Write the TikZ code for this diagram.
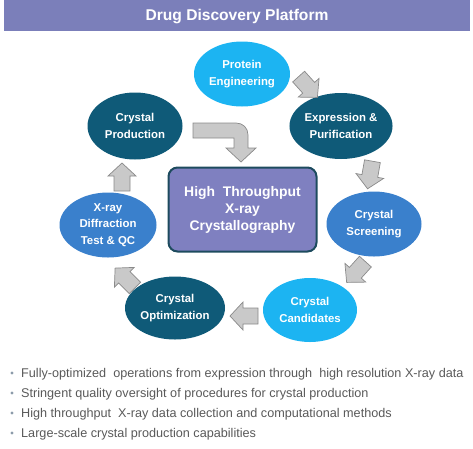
\documentclass[tikz,border=0pt]{standalone}
\usepackage{fontspec}
\setmainfont{Liberation Sans}
\usetikzlibrary{shapes.geometric}
\definecolor{lblue}{HTML}{1CB4F2}
\definecolor{mblue}{HTML}{3A80CC}
\definecolor{dteal}{HTML}{0F5A78}
\definecolor{barcol}{HTML}{7B7FBA}
\definecolor{boxcol}{HTML}{7F80C0}
\definecolor{boxline}{HTML}{1D4B5E}
\definecolor{arrfill}{HTML}{C9C9C9}
\definecolor{arrline}{HTML}{8A8A8A}
\definecolor{txtgray}{HTML}{595959}
\definecolor{dotcol}{HTML}{8C9BAA}
\begin{document}
\begin{tikzpicture}[x=1pt,y=-1pt,
  stage/.style={ellipse, minimum width=96pt, minimum height=65pt, inner sep=0pt,
    text=white, align=center, font=\fontsize{11.4}{16.7}\selectfont\bfseries},
  arrstyle/.style={fill=arrfill, draw=arrline, line width=0.7pt, line join=miter},
  blockarr/.pic={\path[arrstyle] (-14,-8) -- (1,-8) -- (1,-14) -- (14,0) -- (1,14) -- (1,8) -- (-14,8) -- cycle;},
  bullettext/.style={anchor=base west, inner sep=0pt, text=txtgray, font=\fontsize{12.65}{15}\selectfont},
  bulletdot/.style={fill=dotcol}
]
\useasboundingbox (0,0) rectangle (473,448);
% title bar
\fill[barcol] (4,0) rectangle (470,31);
\node[text=white, font=\fontsize{15.6}{18}\selectfont\bfseries] (title) at (237,16) {Drug Discovery Platform};

% centre box
\node[draw=boxline, line width=2pt, fill=boxcol, rounded corners=9pt,
  minimum width=148pt, minimum height=84pt, inner sep=0pt, text=white, align=center,
  font=\fontsize{13.9}{17}\selectfont\bfseries] (htx) at (242.5,209.5)
  {High\ \ Throughput\\X-ray\\Crystallography};

% stages
\node[stage, fill=lblue] (pe) at (242,74) {Protein\\Engineering};
\node[stage, fill=dteal, minimum width=92pt, minimum height=66pt] (ep) at (341,126) {Expression \&\\Purification};
\node[stage, fill=mblue, minimum width=95pt] (cs) at (374,224) {Crystal\\Screening};
\node[stage, fill=lblue, minimum width=94pt, minimum height=64pt] (cc) at (310,310) {Crystal\\Candidates};
\node[stage, fill=dteal, minimum width=100pt, minimum height=63pt] (co) at (175,308) {Crystal\\Optimization};
\node[stage, fill=mblue, minimum width=97pt] (xr) at (108,225) {X-ray\\Diffraction\\Test \& QC};
\node[stage, fill=dteal, minimum width=95pt, minimum height=67pt] (cp) at (135,126) {Crystal\\Production};

% cycle arrows
\pic[rotate=-48] at (308,87) {blockarr};
\pic[rotate=-100] at (370,175) {blockarr};
\pic[rotate=-132] at (356,272) {blockarr};
\pic[rotate=180] at (244,316) {blockarr};
\pic[rotate=135] at (125,278) {blockarr};
\pic[rotate=90] at (122,177) {blockarr};

% bent arrow from production to centre
\path[arrstyle] (193,123) -- (236,123) .. controls (243,123) and (248,128) .. (248,135)
  -- (248,148) -- (256,148) -- (241,162) -- (226,148) -- (234,148) -- (234,138) -- (193,138) -- cycle;

% bullets
\foreach \yy in {377.5,397.5,417.5,437.5} \fill[bulletdot] (12,\yy-4.5) circle (1.6pt);
\node[bullettext] (b1) at (21,377.5) {Fully-optimized\ \ operations from expression through\ \ high resolution X-ray data};
\node[bullettext] (b2) at (21,397.5) {Stringent quality oversight of procedures for crystal production};
\node[bullettext] (b3) at (21,417.5) {High throughput\ \ X-ray data collection and computational methods};
\node[bullettext] (b4) at (21,437.5) {Large-scale crystal production capabilities};
\end{tikzpicture}
\end{document}
